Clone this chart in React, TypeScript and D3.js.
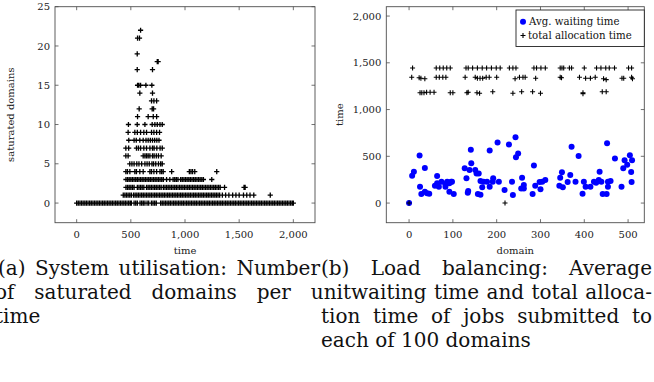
import React, { useLayoutEffect, useRef, useState } from 'react';
import * as d3 from 'd3';

const W = 654;
const H = 382;
const FONT = '"DejaVu Serif", serif';

// ---------- (a) saturated domains per unit time ----------
const satTicksX = [0, 500, 1000, 1500, 2000];
const satTicksY = [0, 5, 10, 15, 20, 25];

const sat0 = [0, 15, 30, 45, 60, 75, 90, 105, 120, 135, 150, 165, 180, 195, 210, 225, 240, 255, 270, 285, 300, 315,
  330, 345, 360, 375, 390, 405, 420, 435, 450, 465, 480, 495,
  505, 530, 545, 560, 585, 600, 615, 630, 650, 665, 690, 705, 720, 735, 775, 790, 805,
  820, 835, 850, 865, 880, 895, 910, 925, 940, 955, 970, 985, 1000, 1015, 1030, 1045, 1060, 1075, 1090, 1105, 1120,
  1135, 1150, 1165, 1180, 1195, 1210, 1225, 1240, 1255, 1270, 1285, 1300, 1315, 1330, 1345, 1360, 1375, 1390, 1405,
  1420, 1435, 1450, 1465, 1480, 1495, 1510, 1525, 1540, 1555, 1570, 1585, 1600, 1615, 1630, 1645, 1660, 1675, 1690,
  1705, 1720, 1735, 1750, 1765, 1780, 1795, 1810, 1825, 1840, 1855, 1870, 1885, 1900, 1915, 1930, 1945, 1960, 1975,
  1990, 2000];
const sat1 = [430, 445, 460, 475, 490, 505, 525, 540, 555, 570, 585, 600, 615, 630, 645, 660, 675, 690, 705, 720,
  735, 750, 765, 780, 795, 810, 825, 840, 855, 870, 885, 900, 915, 930, 945, 960, 975, 990, 1005, 1020, 1035, 1050,
  1065, 1080, 1095, 1110, 1125, 1140, 1155, 1170, 1185, 1200, 1215, 1230, 1245, 1260, 1275, 1290, 1305, 1320,
  1345, 1375, 1405, 1440, 1470, 1500, 1540, 1570, 1600, 1635, 1787];
const sat2 = [455, 470, 485, 500, 515, 530, 560, 575, 590, 605, 620, 645, 660, 675, 690, 705, 720, 735, 750, 765,
  780, 800, 815, 830, 845, 860, 875, 890, 905, 920, 935, 950, 965, 980, 995, 1010, 1025, 1040, 1055, 1070, 1085,
  1100, 1115, 1130, 1145, 1160, 1175, 1190, 1205, 1220, 1235, 1250, 1265, 1280, 1295, 1310, 1325, 1365, 1545, 1555];
const sat3 = [455, 470, 485, 500, 515, 530, 545, 560, 575, 590, 605, 620, 635, 650, 665, 680, 695, 710, 725, 740,
  755, 770, 785, 800, 830, 860, 890, 905, 920, 935, 960, 975, 990, 1005, 1020, 1035, 1050, 1065, 1080, 1095, 1110,
  1125, 1140, 1155, 1170, 1247];
const sat4 = [454, 469, 491, 537, 552, 583, 614, 676, 691, 713, 738, 769, 784, 799, 877, 1040, 1055, 1070, 1090, 1293];
const sat5 = [490, 510, 530, 555, 575, 600, 630, 650, 670, 695, 710, 730, 755, 775, 790];
const sat6 = [454, 475, 614, 630, 645, 660, 676, 700, 715, 735, 755, 780];
const sat7 = [454, 480, 552, 570, 590, 620, 645, 676, 700, 715, 740, 770, 790];
const sat8 = [481, 530, 550, 583, 614, 640, 660, 680, 700, 720, 740, 760];
const sat9 = [475, 537, 560, 590, 620, 645, 691, 713, 738, 765];
const sat10 = [478, 559, 630, 697, 722, 744, 769, 790];
const sat11 = [562, 660, 707, 738];
const sat12 = [577, 697, 710];
const sat13 = [691, 713, 738];
const sat14 = [583, 700];
const sat15 = [562, 574, 590, 639, 694];
const sat17 = [559, 700];
const sat18 = [744, 752];
const sat19 = [559];
const sat21 = [562, 580];
const sat22 = [590];

const satLevels = [0, 1, 2, 3, 4, 5, 6, 7, 8, 9, 10, 11, 12, 13, 14, 15, 17, 18, 19, 21, 22];
const satTimes = [sat0, sat1, sat2, sat3, sat4, sat5, sat6, sat7, sat8, sat9, sat10, sat11, sat12, sat13, sat14,
  sat15, sat17, sat18, sat19, sat21, sat22];

// ---------- (b) load balancing ----------
const lbTicksX = [0, 100, 200, 300, 400, 500];
const lbTicksY = [0, 500, 1000, 1500, 2000];

const waitDomain = [0, 7, 11, 24, 25, 28, 36, 36, 41, 46, 59, 64, 64, 68, 74, 83, 87, 92, 96, 92, 98, 102, 83,
  127, 131, 134, 135, 138, 141, 142, 151, 154, 159, 157, 163, 163, 167, 170, 178, 184, 184, 191, 192, 202, 205,
  218, 228, 235, 237, 243, 244, 249, 258, 256, 262, 262, 282, 285, 288, 298, 300, 304, 311,
  343, 345, 349, 351, 362, 368, 371, 380, 387, 396, 399, 403, 414, 422, 427, 433, 435, 439, 442, 451, 452, 454,
  454, 460, 470, 485, 489, 492, 498, 504, 507, 508, 509];
const waitTime = [0, 293, 336, 508, 175, 97, 122, 376, 104, 100, 186, 290, 211, 175, 229, 204, 229, 211, 229, 122,
  229, 97, 175,
  372, 265, 111, 129, 354, 569, 426, 354, 315, 315, 97, 89, 236, 168, 229, 229, 562, 175, 229, 265, 648, 229,
  140, 626, 229, 86, 705, 490, 529, 272, 157, 193, 157, 97, 401, 186, 225, 147, 229, 247,
  186, 272, 329, 168, 225, 301, 601, 229, 504, 100, 229, 175, 175, 229, 218, 247, 336, 229, 97, 97, 640, 175,
  229, 236, 476, 175, 372, 458, 411, 512, 333, 225, 458];

const allocDomain = [0, 219,
  8, 62, 70, 78, 86, 94, 130, 135, 145, 156, 167, 177, 188, 199, 208, 229, 237, 244, 285, 291, 301, 311, 345, 349,
  353, 366, 371, 400, 428, 438, 449, 457, 469, 501, 508,
  6, 23, 27, 36, 62, 69, 77, 84, 128, 151, 156, 162, 168, 176, 183, 200, 242, 252, 260, 265, 289, 345, 348, 389,
  403, 414, 425, 444, 450, 486, 490, 508, 510,
  25, 29, 34, 40, 48, 57, 94, 100, 132, 135, 155, 161, 191, 237, 257, 282, 300, 397, 397, 441, 450];
const allocTime = [0, 0,
  1445, 1445, 1445, 1445, 1445, 1445, 1445, 1445, 1445, 1445, 1445, 1445, 1445, 1445, 1445, 1445, 1445, 1445, 1445,
  1445, 1445, 1445, 1445, 1445, 1445, 1445, 1445, 1445, 1445, 1445, 1445, 1445, 1445, 1445, 1445,
  1345, 1340, 1335, 1330, 1345, 1345, 1345, 1345, 1345, 1345, 1335, 1335, 1335, 1345, 1345, 1345, 1330, 1345,
  1345, 1345, 1335, 1345, 1340, 1345, 1335, 1335, 1345, 1330, 1320, 1335, 1335, 1345, 1330,
  1180, 1180, 1180, 1185, 1185, 1185, 1180, 1180, 1180, 1185, 1180, 1175, 1190, 1175, 1190, 1190, 1175, 1170,
  1180, 1190, 1190];

const legendLabels = ['Avg. waiting time', 'total allocation time'];

// ---------- captions ----------
const captionLines = [
  { text: '(a) System utilisation: Number', x: -2, w: 322, line: 0 },
  { text: 'of saturated domains per unit', x: -5, w: 356, line: 1 },
  { text: 'time', x: -5, w: 0, line: 2 },
  { text: '(b) Load balancing: Average', x: 321, w: 331, line: 0 },
  { text: 'waiting time and total alloca-', x: 351, w: 301, line: 1 },
  { text: 'tion time of jobs submitted to', x: 321, w: 331, line: 2 },
  { text: 'each of 100 domains', x: 321, w: 0, line: 3 },
];

const CAP_FONT_SIZE = 20;
const capBase = [275, 299, 323, 347];

const fmt = d3.format(',');
const AXIS = '#4d4d4d';
const TICK = 3.5;
const TXT = 10;

function Frame(props: any) {
  const { xs, ys, xTicks, yTicks, xLabel, yLabel, yLabelX } = props;
  const [x0, x1] = xs.range();
  const [y1, y0] = ys.range();
  return (
    <g>
      <rect x={x0} y={y0} width={x1 - x0} height={y1 - y0} fill="none" stroke={AXIS} strokeWidth={0.9} />
      {xTicks.map((t: number) => (
        <g key={'x' + t}>
          <line x1={xs(t)} x2={xs(t)} y1={y1} y2={y1 - TICK} stroke={AXIS} strokeWidth={0.8} />
          <line x1={xs(t)} x2={xs(t)} y1={y0} y2={y0 + TICK} stroke={AXIS} strokeWidth={0.8} />
          <text x={xs(t)} y={y1 + 15} textAnchor="middle" fontSize={TXT} fontFamily={FONT} fill="#222">{fmt(t)}</text>
        </g>
      ))}
      {yTicks.map((t: number) => (
        <g key={'y' + t}>
          <line x1={x0} x2={x0 + TICK} y1={ys(t)} y2={ys(t)} stroke={AXIS} strokeWidth={0.8} />
          <line x1={x1} x2={x1 - TICK} y1={ys(t)} y2={ys(t)} stroke={AXIS} strokeWidth={0.8} />
          <text x={x0 - 5} y={ys(t) + 3.6} textAnchor="end" fontSize={TXT} fontFamily={FONT} fill="#222">{fmt(t)}</text>
        </g>
      ))}
      <text x={(x0 + x1) / 2} y={y1 + 31} textAnchor="middle" fontSize={TXT} fontFamily={FONT} fill="#222">{xLabel}</text>
      <text transform={`translate(${yLabelX},${(y0 + y1) / 2}) rotate(-90)`} textAnchor="middle" fontSize={TXT}
        fontFamily={FONT} fill="#222">{yLabel}</text>
    </g>
  );
}

function plus(x: number, y: number, s: number) {
  return `M${x - s},${y}H${x + s}M${x},${y - s}V${y + s}`;
}

export default function App() {
  const xa = d3.scaleLinear().domain([-200, 2200]).range([55, 315]);
  const ya = d3.scaleLinear().domain([-2.5, 25]).range([222.7, 6.7]);
  const xb = d3.scaleLinear().domain([-52, 537]).range([386.3, 644.3]);
  const yb = d3.scaleLinear().domain([-210, 2100]).range([222.7, 6.7]);

  const capRefs = useRef<(SVGTextElement | null)[]>([]);
  const [ws, setWs] = useState<number[]>(captionLines.map(() => 0));

  useLayoutEffect(() => {
    const compute = () => {
      const next = captionLines.map((c, i) => {
        const el = capRefs.current[i];
        if (!el || c.w <= 0) return 0;
        const prev = el.style.wordSpacing;
        el.style.wordSpacing = '0px';
        const nat = el.getComputedTextLength();
        el.style.wordSpacing = prev;
        const spaces = (c.text.match(/ /g) || []).length;
        return spaces > 0 ? Math.max(0, (c.w - nat) / spaces) : 0;
      });
      setWs(next);
    };
    compute();
    if ((document as any).fonts && (document as any).fonts.ready) {
      (document as any).fonts.ready.then(compute);
    }
  }, []);

  const satPath = satLevels
    .map((lv, i) => satTimes[i].map((t) => plus(xa(t), ya(lv), 2.6)).join(''))
    .join('');
  const allocPath = allocDomain.map((d, i) => plus(xb(d), yb(allocTime[i]), 2.5)).join('');

  return (
    <svg width={W} height={H} style={{ position: 'absolute', left: 0, top: 0, background: '#fff' }}
      xmlns="http://www.w3.org/2000/svg">
      <rect x={0} y={0} width={W} height={H} fill="#fff" />
      <Frame xs={xa} ys={ya} xTicks={satTicksX} yTicks={satTicksY} xLabel="time" yLabel="saturated domains" yLabelX={14} />
      <path d={satPath} stroke="#000" strokeWidth={1.3} fill="none" />

      <Frame xs={xb} ys={yb} xTicks={lbTicksX} yTicks={lbTicksY} xLabel="domain" yLabel="time" yLabelX={343} />
      {waitDomain.map((d, i) => (
        <circle key={'w' + i} cx={xb(d)} cy={yb(waitTime[i])} r={3} fill="#0000ff" />
      ))}
      <path d={allocPath} stroke="#000" strokeWidth={1.1} fill="none" />

      <g>
        <rect x={516} y={10} width={128.3} height={36.5} fill="#fff" stroke="#222" strokeWidth={0.9} />
        <circle cx={523} cy={21.7} r={3} fill="#0000ff" />
        <text x={529} y={25.3} fontSize={10.2} fontFamily={FONT} fill="#111">{legendLabels[0]}</text>
        <path d={plus(523, 35.5, 2.5)} stroke="#000" strokeWidth={1.1} />
        <text x={528} y={39.3} fontSize={10.2} fontFamily={FONT} fill="#111">{legendLabels[1]}</text>
      </g>

      {captionLines.map((c, i) => (
        <text key={'c' + i} ref={(el) => { capRefs.current[i] = el; }} x={c.x} y={capBase[c.line]}
          fontSize={CAP_FONT_SIZE} fontFamily={FONT} fill="#111" style={{ wordSpacing: `${ws[i]}px` }}>{c.text}</text>
      ))}
    </svg>
  );
}
